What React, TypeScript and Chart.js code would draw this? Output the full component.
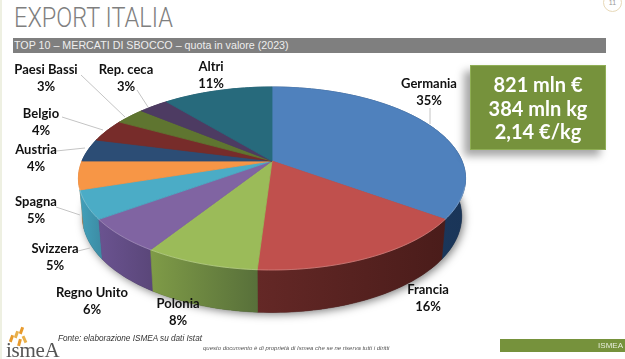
import React, { useEffect, useRef } from "react";
import { Chart, registerables } from "chart.js";

Chart.register(...registerables);

const categories = ["Germania", "Francia", "Polonia", "Regno Unito", "Svizzera", "Spagna", "Austria", "Belgio", "Paesi Bassi", "Rep. ceca", "Altri"];
const shares = [35, 16, 8, 6, 5, 5, 4, 4, 3, 3, 11];
const summaryLines = ["821 mln €", "384 mln kg", "2,14 €/kg"];

const topColors = ["#4f81bd", "#c0504d", "#9bbb59", "#8064a2", "#4bacc6", "#f79646", "#2c4d75", "#772c2a", "#5f7530", "#4d3b62", "#276a7c"];
const wallColors = [
  ["#1a3558", "#1f3e66"], ["#4a1c1a", "#642826"], ["#58703a", "#7f9b47"], ["#5a4679", "#6a5390"], ["#3c8ba3", "#42a0ba"],
  ["#c87a38", "#c87a38"], ["#1f3a5c", "#1f3a5c"], ["#5a2120", "#5a2120"], ["#4a5c26", "#4a5c26"], ["#3a2d4b", "#3a2d4b"], ["#1f5563", "#1f5563"],
];

// label placement: [centre x, first-line y]
const labelAnchors = [[429, 84], [428, 290], [178, 304], [92, 293], [55, 249], [36, 202], [36, 150], [41, 114], [46, 70], [126, 70], [211, 67]];
// leader lines: [x1, y1, x2, y2]
const leaders = [[430, 108, 430, 124], [81, 75, 125, 117], [137, 90, 148, 107], [62, 117, 103, 130], [56, 151, 85, 148], [56, 207, 80, 215], [78, 251, 90, 248]];

const ELLIPSE_RATIO = 0.464;
const PERSPECTIVE = -0.191;
const WALL_DROP = 37;
const WALL_SCALE_X = 0.98;
const WALL_SCALE_Y = 1.05;

function project(arc: any, a: number, bottom: boolean) {
  const ux = Math.cos(a);
  const uy = Math.sin(a);
  const d = 1 + PERSPECTIVE * uy;
  const X = (arc.outerRadius * ux) / d;
  const Y = (arc.outerRadius * ELLIPSE_RATIO * uy) / d;
  if (bottom) return [arc.x + X * WALL_SCALE_X, arc.y + WALL_DROP + Y * WALL_SCALE_Y];
  return [arc.x + X, arc.y + Y];
}

function rimPoints(arc: any, bottom: boolean) {
  const pts: number[][] = [];
  const n = Math.max(6, Math.ceil((arc.endAngle - arc.startAngle) * 40));
  for (let i = 0; i <= n; i++) {
    pts.push(project(arc, arc.startAngle + ((arc.endAngle - arc.startAngle) * i) / n, bottom));
  }
  return pts;
}

const pie3d = {
  id: "pie3d",
  beforeDatasetDraw() {
    return false;
  },
  afterDatasetsDraw(chart: any) {
    const ctx = chart.ctx as CanvasRenderingContext2D;
    const arcs = chart.getDatasetMeta(0).data;
    ctx.save();

    // soft shadow beneath the disc
    ctx.save();
    ctx.shadowColor = "rgba(0,0,0,0.5)";
    ctx.shadowBlur = 9;
    ctx.shadowOffsetX = 2;
    ctx.shadowOffsetY = 2;
    ctx.fillStyle = "#333";
    ctx.beginPath();
    arcs.forEach((arc: any) => rimPoints(arc, true).forEach((p) => ctx.lineTo(p[0], p[1])));
    ctx.closePath();
    ctx.fill();
    ctx.restore();

    // side walls, farthest first so the nearer ones cover them
    const midSin = (arc: any) => Math.sin((arc.startAngle + arc.endAngle) / 2);
    const order = arcs.map((_: any, i: number) => i).sort((p: number, q: number) => midSin(arcs[p]) - midSin(arcs[q]));
    order.forEach((i: number) => {
      const arc = arcs[i];
      const t = rimPoints(arc, false);
      const b = rimPoints(arc, true);
      const xs = t.concat(b).map((p) => p[0]);
      const g = ctx.createLinearGradient(Math.max(...xs), 0, Math.min(...xs), 0);
      g.addColorStop(0, wallColors[i][0]);
      g.addColorStop(1, wallColors[i][1]);
      ctx.fillStyle = g;
      ctx.strokeStyle = g;
      ctx.lineWidth = 0.6;
      ctx.beginPath();
      t.forEach((p) => ctx.lineTo(p[0], p[1]));
      b.reverse().forEach((p) => ctx.lineTo(p[0], p[1]));
      ctx.closePath();
      ctx.fill();
      ctx.stroke();
    });

    // top surface
    arcs.forEach((arc: any, i: number) => {
      ctx.fillStyle = topColors[i];
      ctx.strokeStyle = topColors[i];
      ctx.lineWidth = 0.8;
      ctx.beginPath();
      ctx.moveTo(arc.x, arc.y);
      rimPoints(arc, false).forEach((p) => ctx.lineTo(p[0], p[1]));
      ctx.closePath();
      ctx.fill();
      ctx.stroke();
    });

    // bevel highlight along the front rim
    arcs.forEach((arc: any) => {
      ctx.strokeStyle = "rgba(255,255,255,0.22)";
      ctx.lineWidth = 1;
      ctx.beginPath();
      rimPoints(arc, false).forEach((p) => {
        if (p[1] > arc.y + 25) ctx.lineTo(p[0], p[1]);
      });
      ctx.stroke();
    });

    // leader lines
    ctx.strokeStyle = "#c4c4c4";
    ctx.lineWidth = 1;
    leaders.forEach((l) => {
      ctx.beginPath();
      ctx.moveTo(l[0], l[1]);
      ctx.lineTo(l[2], l[3]);
      ctx.stroke();
    });

    // data labels
    ctx.fillStyle = "#111";
    ctx.font = 'bold 13px Lato, "Open Sans", sans-serif';
    ctx.textAlign = "center";
    ctx.textBaseline = "middle";
    categories.forEach((name, i) => {
      const [x, y] = labelAnchors[i];
      ctx.fillText(name, x, y);
      ctx.fillText(shares[i] + "%", x, y + 17);
    });
    ctx.restore();
  },
};

const abs = (s: React.CSSProperties): React.CSSProperties => ({ position: "absolute", whiteSpace: "nowrap", ...s });
const rays = [[10, 335, 20], [15, 331, 20], [20, 327, 20], [23, 336, -25], [18, 339, 15]];

export default function App() {
  const ref = useRef<HTMLCanvasElement>(null);
  useEffect(() => {
    const chart = new Chart(ref.current!, {
      type: "pie",
      data: {
        labels: categories,
        datasets: [{ data: shares, backgroundColor: topColors, borderWidth: 0 }],
      },
      options: {
        animation: false,
        responsive: false,
        radius: 190,
        layout: { padding: { left: 0, top: 0, right: 81, bottom: 37 } },
        plugins: { legend: { display: false }, tooltip: { enabled: false }, title: { display: false } },
      } as any,
      plugins: [pie3d],
    });
    return () => chart.destroy();
  }, []);

  return (
    <div style={{ position: "fixed", left: 0, top: 0, width: 625, height: 359, background: "#fff", overflow: "hidden", fontFamily: '"Liberation Sans", sans-serif' }}>
      <div style={abs({ left: 0, top: 0, width: 2, height: 359, background: "#eef0e2" })} />
      <div style={abs({ left: 14, top: 0, fontFamily: "Roboto, sans-serif", fontWeight: 300, fontSize: 28, lineHeight: "36px", color: "#7f7f7f", transform: "scaleX(0.84)", transformOrigin: "left" })}>EXPORT ITALIA</div>
      <div style={abs({ left: 13, top: 38, width: 593, height: 15, background: "#7f7f7f" })} />
      <div style={abs({ left: 14, top: 38, fontSize: 11.5, lineHeight: "15px", color: "#eeeeee", transform: "scaleX(0.93)", transformOrigin: "left" })}>TOP 10 – MERCATI DI SBOCCO – quota in valore (2023)</div>
      <div style={abs({ left: 603, top: -7, width: 17, height: 17, border: "1px solid #e8d9b8", borderRadius: "50%", color: "#999", fontSize: 7, lineHeight: "17px", textAlign: "center" })}>11</div>

      <canvas ref={ref} width={625} height={359} style={{ position: "absolute", left: 0, top: 0, width: 625, height: 359 }} />

      <div style={abs({ left: 470, top: 65, width: 134, height: 83, background: "#76923c", border: "1px solid #8fae55", boxShadow: "-6px 6px 8px rgba(0,0,0,0.35)", color: "#fff", fontFamily: "Lato, sans-serif", fontWeight: 700, fontSize: 20, lineHeight: "23.5px", textAlign: "center", paddingTop: 0 })}>
        <div style={{ height: 7 }} />
        {summaryLines.map((s) => (
          <div key={s}>{s}</div>
        ))}
      </div>

      {rays.map((r, i) => (
        <div key={i} style={abs({ left: r[0], top: r[1], width: 2.5, height: 7, background: i % 2 ? "#e8b04a" : "#e89a2c", transform: `rotate(${r[2]}deg)` })} />
      ))}
      <div style={abs({ left: 6, top: 341, fontFamily: '"Liberation Serif", serif', fontSize: 21, lineHeight: "18px", color: "#555", letterSpacing: -0.3 })}>ismeA</div>
      <div style={abs({ left: 58, top: 334, fontSize: 8.2, lineHeight: "10px", fontStyle: "italic", color: "#333" })}>Fonte: elaborazione ISMEA su dati Istat</div>
      <div style={abs({ left: 203, top: 343, fontSize: 6, lineHeight: "10px", fontStyle: "italic", color: "#555" })}>questo documento è di proprietà di Ismea che se ne riserva tutti i diritti</div>
      <div style={abs({ left: 500, top: 339, width: 125, height: 13, background: "#76923c" })} />
      <div style={abs({ right: 2, top: 339, fontSize: 8, lineHeight: "13px", color: "#e8eedd" })}>ISMEA</div>
    </div>
  );
}
